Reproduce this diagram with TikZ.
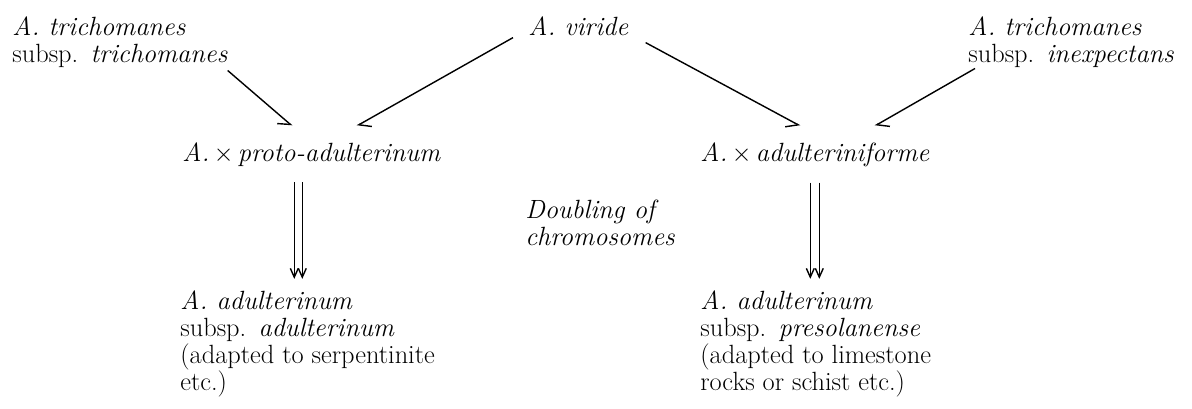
\documentclass[tikz,border=0pt]{standalone}
\usepackage{tikz}
\usetikzlibrary{positioning,arrows.meta}

\newcommand{\taxfont}{\fontsize{15pt}{15.36pt}\selectfont\itshape}

\tikzset{
  taxon/.style={inner sep=0pt,align=left,font=\taxfont,anchor=base west},
  cross/.style={line width=0.8pt,-{Straight Barb[#1,length=6pt,width=9pt]}},
  dbl/.style={line width=0.8pt,-{Straight Barb[length=5pt,width=4.5pt]},
    shorten <=0.32cm,shorten >=0.22cm}
}

\begin{document}
\begin{tikzpicture}
  \useasboundingbox (0,0) rectangle (23.84,-8.16);
  % parents (base = last line)
  \node[taxon] (tricho) at (0.24,-1.24)
    {A. trichomanes\\\textup{subsp.} trichomanes};
  \node[taxon] (viride) at (10.56,-0.70) {A. viride};
  \node[taxon] (inexp) at (19.36,-1.24)
    {A. trichomanes\\\textup{subsp.} inexpectans};
  % hybrids
  \node[taxon] (proto) at (3.64,-3.22)
    {A.\,$\times$\,proto-adulterinum};
  \node[taxon] (adultif) at (14.0,-3.22)
    {A.\,$\times$\,adulteriniforme};
  \node[taxon] (doubling) at (10.50,-4.90)
    {Doubling of\\chromosomes};
  % allotetraploids
  \node[taxon] (adult) at (3.60,-7.80)
    {A. adulterinum\\\textup{subsp.} adulterinum\\\textup{(adapted to serpentinite}\\\textup{etc.)}};
  \node[taxon] (preso) at (14.0,-7.80)
    {A. adulterinum\\\textup{subsp.} presolanense\\\textup{(adapted to limestone}\\\textup{rocks or schist etc.)}};

  \draw[cross=right] ([yshift=-0.06cm]tricho.south east) -- ([xshift=2.2cm,yshift=0.32cm]proto.north west);
  \draw[cross=left] ([xshift=-0.3cm,yshift=-0.04cm]viride.south west) -- ([xshift=3.5cm,yshift=0.32cm]proto.north west);
  \draw[cross=right] ([xshift=0.34cm,yshift=-0.14cm]viride.south east) -- ([xshift=2.0cm,yshift=0.32cm]adultif.north west);
  \draw[cross=left] ([xshift=0.14cm,yshift=-0.02cm]inexp.south west) -- ([xshift=3.5cm,yshift=0.32cm]adultif.north west);

  \draw[dbl] ([xshift=-0.34cm]proto.south) -- ([xshift=-0.34cm]proto.south |- adult.north);
  \draw[dbl] ([xshift=-0.18cm]proto.south) -- ([xshift=-0.18cm]proto.south |- adult.north);
  \draw[dbl] ([xshift=-0.09cm]adultif.south) -- ([xshift=-0.09cm]adultif.south |- preso.north);
  \draw[dbl] ([xshift=0.09cm]adultif.south) -- ([xshift=0.09cm]adultif.south |- preso.north);
\end{tikzpicture}
\end{document}
